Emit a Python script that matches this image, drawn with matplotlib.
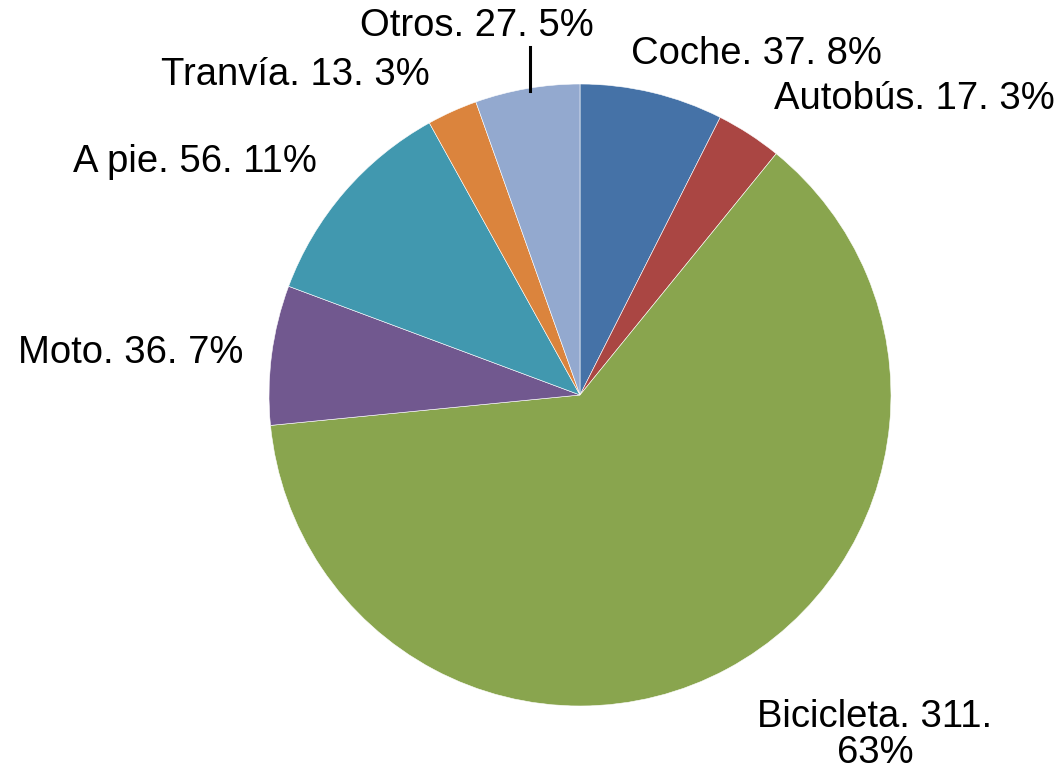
import matplotlib
matplotlib.use("Agg")
import matplotlib.pyplot as plt

categories = ["Coche", "Autobús", "Bicicleta", "Moto", "A pie", "Tranvía", "Otros"]
values = [37, 17, 311, 36, 56, 13, 27]
percent_labels = ["8%", "3%", "63%", "7%", "11%", "3%", "5%"]
colors = ["#4572A7", "#AA4643", "#89A54E", "#71588F", "#4198AF", "#DB843D", "#93A9CF"]

plt.rcParams['font.family'] = ['Liberation Sans', 'DejaVu Sans']

W, H = 1060, 771
fig = plt.figure(figsize=(W / 100, H / 100), dpi=100)
cx, cy, r = 580, 395, 311
ax = fig.add_axes([(cx - r) / W, (H - cy - r) / H, 2 * r / W, 2 * r / H])
ax.pie(values, colors=colors, startangle=90, counterclock=False,
       wedgeprops=dict(edgecolor="white", linewidth=0.4))
ax.set_xlim(-1, 1)
ax.set_ylim(-1, 1)
ax.set_aspect("equal")
ax.axis("off")

# label positions (pixel centers)
label_pos = [(756, 54), (914, 99), (875, 735), (131, 353), (195, 162), (295, 75), (477, 26)]
for cat, v, p, (px, py) in zip(categories, values, percent_labels, label_pos):
    if cat == "Bicicleta":
        txt = f"{cat}. {v}.\n{p}"
    else:
        txt = f"{cat}. {v}. {p}"
    fig.text(px / W, 1 - py / H, txt, ha="center", va="center", fontsize=27.5,
             color="black", linespacing=1.02)

# leader line for Otros
fig.add_artist(plt.Line2D([530 / W, 530 / W], [1 - 47 / H, 1 - 91 / H],
                          color="black", linewidth=2.2))

fig.savefig("out.png", dpi=100, facecolor="white")
